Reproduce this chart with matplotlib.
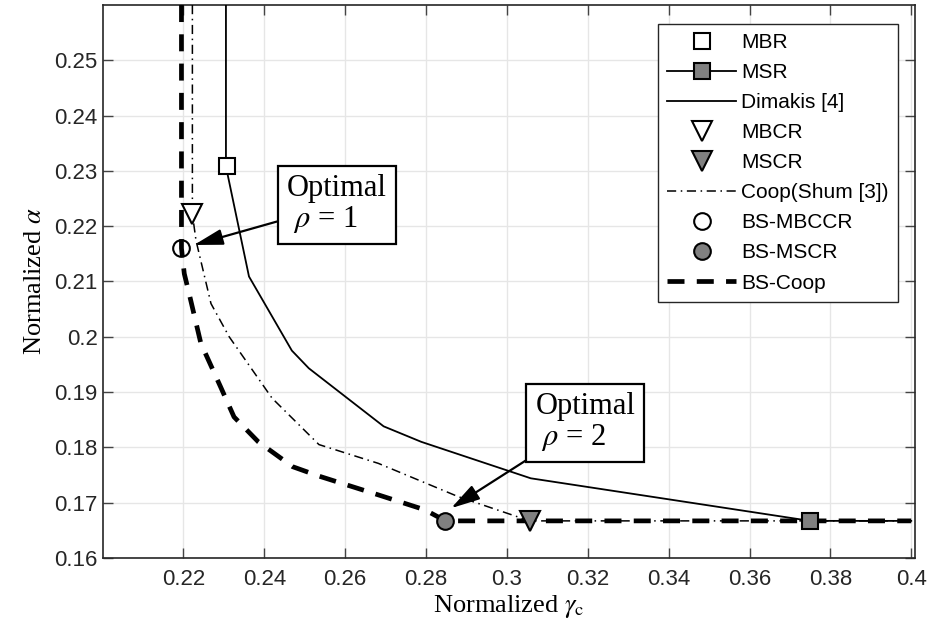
import numpy as np
import matplotlib
matplotlib.use("Agg")
import matplotlib.pyplot as plt
from matplotlib.lines import Line2D

plt.rcParams['font.family'] = ['Liberation Sans', 'DejaVu Sans']
plt.rcParams['mathtext.fontset'] = 'stix'

# Dimakis [4] tradeoff curve
dimakis_x = [0.2305, 0.2305, 0.2362, 0.2468, 0.2510, 0.2695, 0.2788, 0.3059, 0.375, 0.40]
dimakis_y = [0.2600, 0.2308, 0.2109, 0.1975, 0.1943, 0.1838, 0.1810, 0.1744, 0.1667, 0.1667]

# Coop (Shum [3]) curve
coop_x = [0.2222, 0.2222, 0.2231, 0.2268, 0.2313, 0.2419, 0.2535, 0.2682, 0.2879, 0.3056, 0.40]
coop_y = [0.2600, 0.2222, 0.2174, 0.2060, 0.2000, 0.1889, 0.1805, 0.1771, 0.1711, 0.1667, 0.1667]

# BS-Coop curve
bscoop_x = [0.2195, 0.2195, 0.2202, 0.2214, 0.2243, 0.2292, 0.2325, 0.2385, 0.2470, 0.2535, 0.2682, 0.2797, 0.2848, 0.40]
bscoop_y = [0.2600, 0.2160, 0.2114, 0.2078, 0.1988, 0.1909, 0.1855, 0.1810, 0.1765, 0.1748, 0.1714, 0.1687, 0.1667, 0.1667]

# operating points
mbr = (0.2308, 0.2308)
msr = (0.375, 0.1667)
mbcr = (0.2222, 0.2222)
mscr = (0.3056, 0.1667)
bs_mbccr = (0.2195, 0.2160)
bs_mscr = (0.2848, 0.1667)

xticks = [0.22, 0.24, 0.26, 0.28, 0.30, 0.32, 0.34, 0.36, 0.38, 0.40]
yticks = [0.16, 0.17, 0.18, 0.19, 0.20, 0.21, 0.22, 0.23, 0.24, 0.25]

gray = (0.5, 0.5, 0.5)
ms = 12
dashdot = (6, 3, 1, 3)
bsdash = (3.6, 2.6)

fig = plt.figure(figsize=(9.33, 6.29), dpi=100)
ax = fig.add_axes([0.110, 0.113, 0.871, 0.879])

ax.plot(dimakis_x, dimakis_y, '-', color='k', lw=1.3, zorder=3)
ax.plot(coop_x, coop_y, color='k', lw=1.1, dashes=dashdot, zorder=3)
ax.plot(bscoop_x, bscoop_y, color='k', lw=3.4, dashes=bsdash, zorder=3)

ax.plot(*mbr, 's', ms=ms, mfc='white', mec='k', mew=1.5, zorder=4)
ax.plot(*msr, 's', ms=ms, mfc=gray, mec='k', mew=1.5, zorder=4)
ax.plot(*mbcr, 'v', ms=ms + 2, mfc='white', mec='k', mew=1.5, zorder=4)
ax.plot(*mscr, 'v', ms=ms + 2, mfc=gray, mec='k', mew=1.5, zorder=4)
ax.plot(*bs_mbccr, 'o', ms=ms, mfc='none', mec='k', mew=1.5, zorder=4)
ax.plot(*bs_mscr, 'o', ms=ms, mfc=gray, mec='k', mew=1.5, zorder=4)

ax.set_xlim(0.2, 0.401)
ax.set_ylim(0.16, 0.26)
ax.set_xticks(xticks)
ax.set_yticks(yticks)
ax.set_xticklabels(['%g' % v for v in xticks])
ax.set_yticklabels(['%g' % v for v in yticks])
ax.tick_params(direction='in', top=True, right=True, labelsize=16, length=7, width=1,
               color='#444444', labelcolor='#262626')
ax.tick_params(axis='x', pad=8)
ax.grid(True, color='#e6e6e6', lw=1)
ax.set_axisbelow(True)
for s in ax.spines.values():
    s.set_color('#262626')
    s.set_linewidth(1.2)

ax.set_xlabel(r'Normalized $\gamma_{\rm c}$', family='Liberation Serif', fontsize=19, labelpad=2)
ax.set_ylabel(r'Normalized $\alpha$', family='Liberation Serif', fontsize=19, labelpad=6)

bbox = dict(boxstyle='square,pad=0.3', fc='white', ec='k', lw=1.6)
arrow = dict(arrowstyle='-|>,head_length=0.8,head_width=0.22', color='k', lw=1.6, shrinkA=0, shrinkB=0)
ax.annotate('Optimal\n ' + r'$\rho$ = 1', xy=(0.2226, 0.2166), xytext=(0.2579, 0.2239),
            family='Liberation Serif', fontsize=22, ha='center', va='center',
            multialignment='left', bbox=bbox, arrowprops=arrow, zorder=6, linespacing=1.05)
ax.annotate('Optimal\n ' + r'$\rho$ = 2', xy=(0.2862, 0.1690), xytext=(0.3194, 0.1845),
            family='Liberation Serif', fontsize=22, ha='center', va='center',
            multialignment='left', bbox=bbox, arrowprops=arrow, zorder=6, linespacing=1.05)

handles = [
    Line2D([], [], ls='none', marker='s', ms=ms, mfc='white', mec='k', mew=1.5),
    Line2D([], [], ls='-', color='k', lw=1.3, marker='s', ms=ms, mfc=gray, mec='k', mew=1.5),
    Line2D([], [], ls='-', color='k', lw=1.3),
    Line2D([], [], ls='none', marker='v', ms=ms + 2, mfc='white', mec='k', mew=1.5),
    Line2D([], [], ls='none', marker='v', ms=ms + 2, mfc=gray, mec='k', mew=1.5),
    Line2D([], [], color='k', lw=1.1, dashes=dashdot),
    Line2D([], [], ls='none', marker='o', ms=ms, mfc='white', mec='k', mew=1.5),
    Line2D([], [], ls='none', marker='o', ms=ms, mfc=gray, mec='k', mew=1.5),
    Line2D([], [], color='k', lw=3.4, dashes=bsdash),
]
labels = ['MBR', 'MSR', 'Dimakis [4]', 'MBCR', 'MSCR', 'Coop(Shum [3])',
          'BS-MBCCR', 'BS-MSCR', 'BS-Coop']
leg = ax.legend(handles, labels, loc='upper right', bbox_to_anchor=(0.979, 0.966),
                fontsize=15, handlelength=3.3, labelspacing=0.53, handletextpad=0.25,
                borderpad=0.45, borderaxespad=0, fancybox=False, framealpha=1,
                edgecolor='#262626')
leg.get_frame().set_linewidth(1.0)

fig.savefig('out.png', dpi=100)
